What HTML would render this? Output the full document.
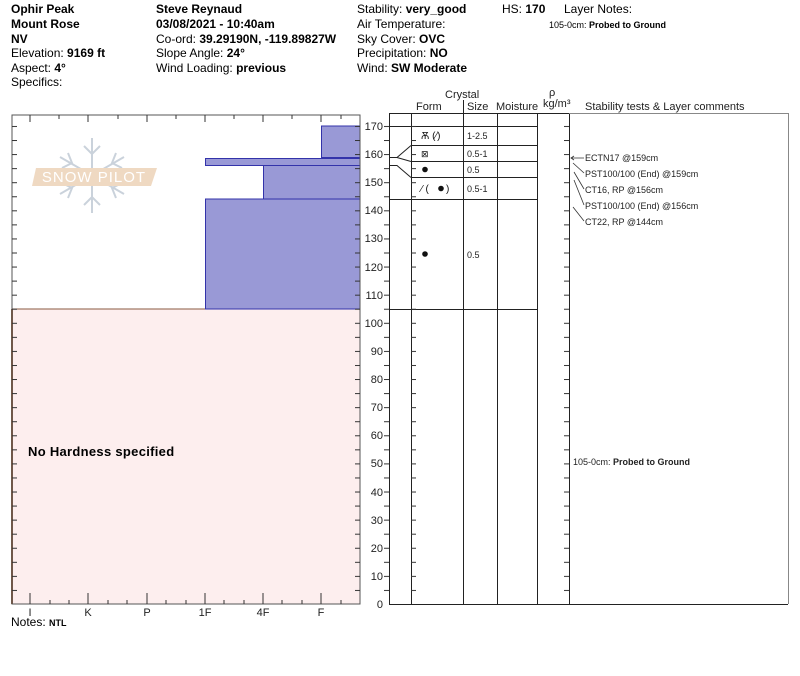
<!DOCTYPE html>
<html><head><meta charset="utf-8"><style>
body{margin:0;background:#fff;width:800px;height:676px;overflow:hidden;font-family:"Liberation Sans","DejaVu Sans",sans-serif;}
svg{display:block}
</style></head><body>
<svg width="800" height="676" viewBox="0 0 800 676" xmlns="http://www.w3.org/2000/svg" font-family="Liberation Sans, DejaVu Sans, sans-serif">
<defs>
<pattern id="tk" x="0" y="604" width="800" height="14.06" patternUnits="userSpaceOnUse">
<rect x="0" y="0" width="800" height="1" fill="#333"/>
</pattern>
</defs>
<g font-size="12" fill="#000">
<text x="11" y="13" font-weight="bold">Ophir Peak</text>
<text x="11" y="28" font-weight="bold">Mount Rose</text>
<text x="11" y="43" font-weight="bold">NV</text>
<text x="11" y="57">Elevation: <tspan font-weight="bold">9169 ft</tspan></text>
<text x="11" y="72">Aspect: <tspan font-weight="bold">4°</tspan></text>
<text x="11" y="86">Specifics:</text>
<text x="156" y="13" font-weight="bold">Steve Reynaud</text>
<text x="156" y="28" font-weight="bold">03/08/2021 - 10:40am</text>
<text x="156" y="43">Co-ord: <tspan font-weight="bold">39.29190N, -119.89827W</tspan></text>
<text x="156" y="57">Slope Angle: <tspan font-weight="bold">24°</tspan></text>
<text x="156" y="72">Wind Loading: <tspan font-weight="bold">previous</tspan></text>
<text x="357" y="13">Stability: <tspan font-weight="bold">very_good</tspan></text>
<text x="357" y="28">Air Temperature:</text>
<text x="357" y="43">Sky Cover: <tspan font-weight="bold">OVC</tspan></text>
<text x="357" y="57">Precipitation: <tspan font-weight="bold">NO</tspan></text>
<text x="357" y="72">Wind: <tspan font-weight="bold"> SW Moderate</tspan></text>
<text x="502" y="13">HS: <tspan font-weight="bold">170</tspan></text>
<text x="564" y="13">Layer Notes:</text>
</g>
<text x="549" y="28" font-size="9">105-0cm: <tspan font-weight="bold">Probed to Ground</tspan></text>

<rect x="12" y="309" width="348" height="295" fill="#fdeeee"/>
<line x1="12" y1="309" x2="360" y2="309" stroke="#8a5a40" stroke-width="1"/>
<line x1="12" y1="309" x2="12" y2="604" stroke="#8a5a40" stroke-width="2"/>
<g fill="#9999d6" stroke="#3333aa" stroke-width="1">
<rect x="205.5" y="199" width="154.5" height="110"/>
<rect x="263.5" y="165.5" width="96.5" height="33.5"/>
<rect x="205.5" y="158.5" width="154.5" height="7"/>
<rect x="321.5" y="126" width="38.5" height="31.5"/>
</g>
<g stroke="#c5ced8" stroke-width="2" fill="none" opacity="0.9">
<line x1="92" y1="138" x2="92" y2="213"/>
<line x1="60" y1="157" x2="124" y2="194"/>
<line x1="60" y1="194" x2="124" y2="157"/>
<path d="M84 146 L92 154 L100 146 M84 205 L92 197 L100 205 M62 168 L72 163 L68 153 M122 168 L112 163 L116 153 M62 183 L72 188 L68 198 M122 183 L112 188 L116 198"/>
</g>
<polygon points="36,168 157,168 151,186 32,186" fill="#efd9c2"/>
<text x="94" y="182" font-size="15" fill="#fff" text-anchor="middle" letter-spacing="1">SNOW PILOT</text>
<rect x="12" y="115" width="348" height="489" fill="none" stroke="#555" stroke-width="1"/>
<rect x="12" y="115" width="5" height="489" fill="url(#tk)"/>
<rect x="355" y="115" width="5" height="489" fill="url(#tk)"/>
<g stroke="#333" stroke-width="1">
<path d="M30 115v7M88 115v7M147 115v7M205 115v7M263 115v7M321 115v7M59 115v4M118 115v4M176 115v4M234 115v4M292 115v4M341 115v4"/>
<path d="M30 604v-11M88 604v-11M147 604v-11M205 604v-11M263 604v-11M321 604v-11M50 604v-4M69 604v-4M108 604v-4M127 604v-4M166 604v-4M186 604v-4M224 604v-4M244 604v-4M282 604v-4M302 604v-4M341 604v-4"/>
</g>
<g font-size="11" fill="#222" text-anchor="middle">
<text x="30" y="616">I</text><text x="88" y="616">K</text><text x="147" y="616">P</text><text x="205" y="616">1F</text><text x="263" y="616">4F</text><text x="321" y="616">F</text>
</g>
<text x="11" y="626" font-size="12">Notes: <tspan font-size="9" font-weight="bold">NTL</tspan></text>
<text x="28" y="456" font-size="13" font-weight="bold" letter-spacing="0.3">No Hardness specified</text>

<g font-size="11" fill="#222" text-anchor="end">
<text x="383" y="130">170</text><text x="383" y="158">160</text><text x="383" y="186">150</text><text x="383" y="214">140</text><text x="383" y="242">130</text><text x="383" y="271">120</text><text x="383" y="299">110</text><text x="383" y="327">100</text><text x="383" y="355">90</text><text x="383" y="383">80</text><text x="383" y="411">70</text><text x="383" y="439">60</text><text x="383" y="467">50</text><text x="383" y="496">40</text><text x="383" y="524">30</text><text x="383" y="552">20</text><text x="383" y="580">10</text><text x="383" y="608">0</text>
</g>

<g font-size="11" fill="#222">
<text x="445" y="98">Crystal</text>
<text x="416" y="110">Form</text>
<text x="467" y="110">Size</text>
<text x="496" y="110">Moisture</text>
<text x="549" y="96">ρ</text>
<text x="543" y="107">kg/m³</text>
<text x="585" y="110">Stability tests &amp; Layer comments</text>
</g>
<g stroke="#222" stroke-width="1" fill="none">
<line x1="389.5" y1="113" x2="389.5" y2="604"/>
<line x1="411.5" y1="113" x2="411.5" y2="604"/>
<line x1="463.5" y1="100" x2="463.5" y2="604"/>
<line x1="497.5" y1="113" x2="497.5" y2="604"/>
<line x1="537.5" y1="113" x2="537.5" y2="604"/>
<line x1="569.5" y1="113" x2="569.5" y2="604"/>
<line x1="389" y1="604.5" x2="788" y2="604.5"/>
<line x1="389" y1="113.5" x2="569" y2="113.5"/>
<line x1="569" y1="113.5" x2="788" y2="113.5" stroke="#888"/>
<line x1="788.5" y1="113" x2="788.5" y2="604" stroke="#888"/>
<line x1="389" y1="126.5" x2="537" y2="126.5"/>
<line x1="411" y1="145.5" x2="537" y2="145.5"/>
<line x1="411" y1="161.5" x2="537" y2="161.5"/>
<line x1="411" y1="177.5" x2="537" y2="177.5"/>
<line x1="389" y1="199.5" x2="537" y2="199.5"/>
<line x1="389" y1="309.5" x2="537" y2="309.5"/>
<path d="M389 157.5 L397 157.5 L411 145.5 M397 157.5 L411 161.5 M389 165.5 L397 165.5 L411 177.5"/>
</g>
<rect x="384" y="115" width="5" height="489" fill="url(#tk)"/>
<rect x="411" y="115" width="5" height="489" fill="url(#tk)"/>
<rect x="564" y="115" width="5" height="489" fill="url(#tk)"/>

<g font-size="9" fill="#222">
<text x="467" y="139">1-2.5</text>
<text x="467" y="157">0.5-1</text>
<text x="467" y="173">0.5</text>
<text x="467" y="192">0.5-1</text>
<text x="467" y="258">0.5</text>
</g>
<g font-size="10" fill="#111">
<text x="421" y="139">Ѫ (⁄)</text>
<text x="421" y="157" font-size="9">⊠</text>
<circle cx="425" cy="169.5" r="2.8" fill="#111"/>
<text x="421" y="192">⁄ (</text><circle cx="441" cy="188.5" r="2.8" fill="#111"/><text x="446" y="192">)</text>
<circle cx="425" cy="254" r="2.8" fill="#111"/>
</g>

<g stroke="#333" stroke-width="0.8" fill="none">
<path d="M584 158 L571 158 M574 156 L571 158 L574 160"/>
<path d="M584 173 L573 163"/>
<path d="M584 189 L574 172"/>
<path d="M584 205 L574 180"/>
<path d="M584 221 L573 207"/>
</g>
<g font-size="9" fill="#222">
<text x="585" y="161">ECTN17 @159cm</text>
<text x="585" y="177">PST100/100 (End) @159cm</text>
<text x="585" y="193">CT16, RP @156cm</text>
<text x="585" y="209">PST100/100 (End) @156cm</text>
<text x="585" y="225">CT22, RP @144cm</text>
<text x="573" y="465">105-0cm: <tspan font-weight="bold">Probed to Ground</tspan></text>
</g>
</svg>
</body></html>
